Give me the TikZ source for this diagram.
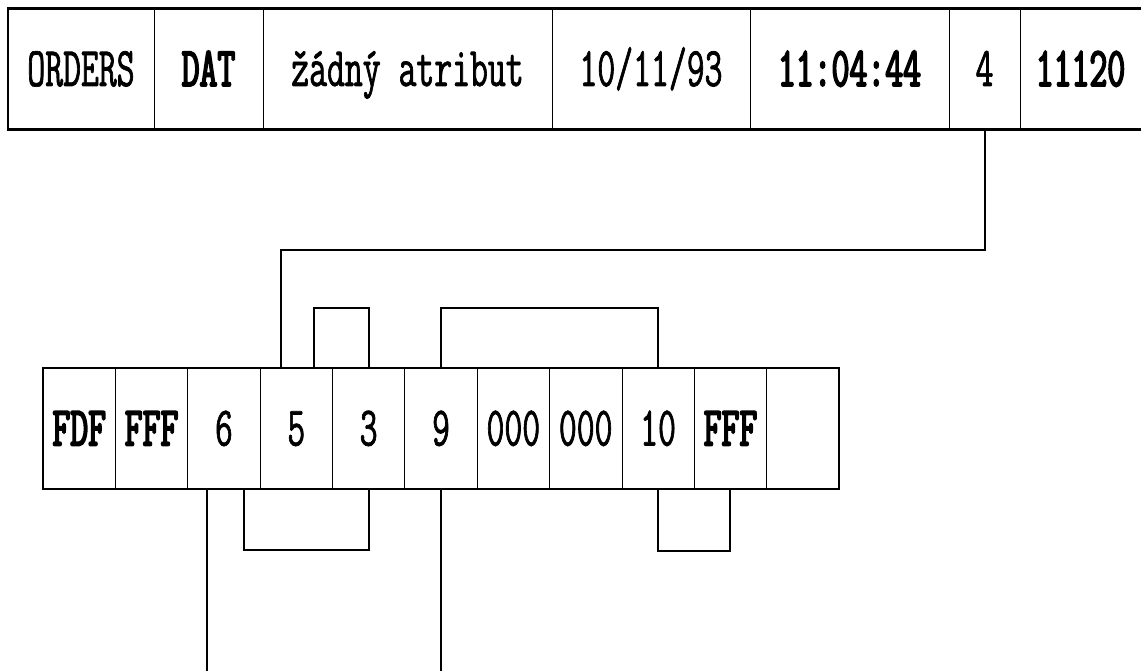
\documentclass[tikz,border=0pt]{standalone}
\usepackage{fontspec}
\newfontfamily\cellfont[FakeStretch=0.62, FakeBold=1.2, BoldFont={Latin Modern Mono}, BoldFeatures={FakeBold=3}]{Latin Modern Mono}
\usetikzlibrary{positioning}
\tikzset{cell/.style={draw, line width=0.7pt, minimum height=121pt, inner sep=0pt, outer sep=0pt,
  text height=34pt, text depth=0pt, font=\cellfont\fontsize{56}{56}\selectfont}}
\tikzset{heavy/.style={font=\cellfont\bfseries\fontsize{56}{56}\selectfont}}
\tikzset{frame/.style={line width=2.4pt}}
\tikzset{link/.style={line width=2pt}}

\begin{document}
\begin{tikzpicture}[x=1pt,y=-1pt]
\useasboundingbox (0,0) rectangle (1141,671);

% directory entry
\node[cell, minimum width=146pt] (orders) at (81,69) {ORDERS};
\node[cell, heavy, minimum width=109pt, right=0pt of orders] (dat) {DAT};
\node[cell, minimum width=289pt, right=0pt of dat] (attr) {žádný atribut};
\node[cell, minimum width=198pt, right=0pt of attr] (date) {10/11/93};
\node[cell, heavy, minimum width=199pt, right=0pt of date] (time) {11:04:44};
\node[cell, minimum width=71pt, right=0pt of time] (start) {4};
\node[cell, heavy, draw=none, minimum width=121pt, right=0pt of start] (size) {11120};
\draw[frame] (size.north east) -- (orders.north west) -- (orders.south west) -- (size.south east);

% FAT
\node[cell, heavy, minimum width=72.36pt] (fdf) at (79.2,428.5) {FDF};
\node[cell, heavy, minimum width=72.36pt, right=0pt of fdf] (fff) {FFF};
\node[cell, minimum width=72.36pt, right=0pt of fff] (n6) {6};
\node[cell, minimum width=72.36pt, right=0pt of n6] (n5) {5};
\node[cell, minimum width=72.36pt, right=0pt of n5] (n3) {3};
\node[cell, minimum width=72.36pt, right=0pt of n3] (n9) {9};
\node[cell, minimum width=72.36pt, right=0pt of n9] (za) {000};
\node[cell, minimum width=72.36pt, right=0pt of za] (zb) {000};
\node[cell, minimum width=72.36pt, right=0pt of zb] (n10) {10};
\node[cell, heavy, minimum width=72.36pt, right=0pt of n10] (eof) {FFF};
\node[cell, minimum width=72.36pt, right=0pt of eof] (free) {};
\draw[frame] (fdf.north west) rectangle (free.south east);

% chain
\coordinate (bend) at (281,250);
\draw[link] (start.south) |- (bend) -- (bend |- n5.north);
\draw[link] ([xshift=18pt]n5.north) -- ++(0,-60) -| (n3.north);
\draw[link] (n9.north) -- ++(0,-60) -| (n10.north);
\draw[link] ([xshift=20pt]n6.south) -- ++(0,61) -| (n3.south);
\draw[link] (n10.south) -- ++(0,62) -| (eof.south);
\draw[link] ([xshift=-17pt]n6.south) -- ++(0,182);
\draw[link] (n9.south) -- ++(0,182);
\end{tikzpicture}
\end{document}
